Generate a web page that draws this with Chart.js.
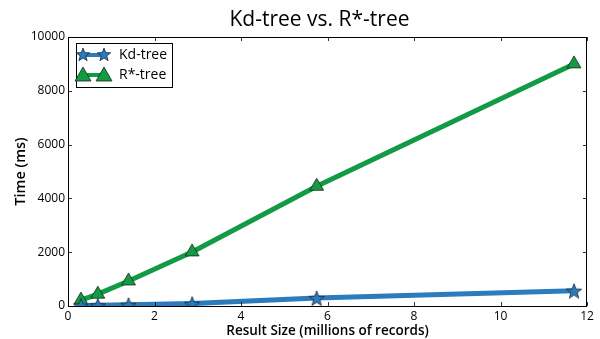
<!DOCTYPE html>
<html><head><meta charset="utf-8">
<script src="https://cdn.jsdelivr.net/npm/chart.js@4"></script>
<style>html,body{margin:0;padding:0;background:#fff}#wrap{width:600px;height:339px}</style>
</head><body><div id="wrap"><canvas id="c" width="600" height="339"></canvas></div>
<script>
const resultSize = [0.3, 0.69, 1.4, 2.87, 5.75, 11.7];
const kdTree = [20, 30, 50, 90, 300, 570];
const rStarTree = [220, 440, 930, 2010, 4450, 9000];
const xTicks = [0, 2, 4, 6, 8, 10, 12];
const yTicks = [0, 2000, 4000, 6000, 8000, 10000];
const seriesNames = ['Kd-tree', 'R*-tree'];
const chartTitle = 'Kd-tree vs. R*-tree';

const FONT = 'Open Sans';
const BLUE = '#2b7bbd';
const GREEN = '#129a45';

function makeStar(r, fill) {
  const s = Math.ceil(r * 2 + 4);
  const c = document.createElement('canvas');
  c.width = s; c.height = s;
  const g = c.getContext('2d');
  g.translate(s / 2, s / 2 + 1);
  g.beginPath();
  for (let i = 0; i < 10; i++) {
    const rad = i % 2 === 0 ? r : r * 0.42;
    const a = -Math.PI / 2 + i * Math.PI / 5;
    const px = Math.cos(a) * rad, py = Math.sin(a) * rad;
    if (i === 0) g.moveTo(px, py); else g.lineTo(px, py);
  }
  g.closePath();
  g.fillStyle = fill; g.fill();
  g.lineWidth = 0.8; g.strokeStyle = '#1a2a3a'; g.stroke();
  return c;
}
const starImg = makeStar(8, BLUE);
const starLeg = makeStar(7, BLUE);

const frame = {
  id: 'frame',
  afterDatasetsDraw(chart) {
    const { ctx, chartArea: a, scales } = chart;
    ctx.save();
    // title
    ctx.fillStyle = '#000';
    ctx.font = '21px "' + FONT + '"';
    ctx.textAlign = 'center'; ctx.textBaseline = 'alphabetic';
    ctx.fillText(chartTitle, (a.left + a.right) / 2 - 8, 26);

    ctx.strokeStyle = '#000'; ctx.lineWidth = 1;
    ctx.strokeRect(a.left + 0.5, a.top + 0.5, a.right - a.left - 1, a.bottom - a.top);
    ctx.lineWidth = 0.8;
    xTicks.forEach(v => {
      const x = Math.round(scales.x.getPixelForValue(v)) + 0.5;
      ctx.beginPath(); ctx.moveTo(x, a.bottom); ctx.lineTo(x, a.bottom - 4);
      ctx.moveTo(x, a.top); ctx.lineTo(x, a.top + 4); ctx.stroke();
    });
    yTicks.forEach(v => {
      const y = Math.round(scales.y.getPixelForValue(v)) + 0.5;
      ctx.beginPath(); ctx.moveTo(a.left, y); ctx.lineTo(a.left + 4, y);
      ctx.moveTo(a.right, y); ctx.lineTo(a.right - 4, y); ctx.stroke();
    });
    // legend
    const lx = a.left + 8, ly = a.top + 6, lw = 96, lh = 44;
    ctx.fillStyle = '#fff';
    ctx.fillRect(lx, ly, lw, lh);
    ctx.strokeStyle = '#000'; ctx.lineWidth = 1;
    ctx.strokeRect(lx + 0.5, ly + 0.5, lw, lh);
    const rows = [ly + 12, ly + 32];
    ctx.font = '14px "' + FONT + '"';
    ctx.textBaseline = 'middle'; ctx.textAlign = 'left';
    ctx.strokeStyle = BLUE; ctx.lineWidth = 4;
    ctx.beginPath(); ctx.moveTo(lx + 7, rows[0]); ctx.lineTo(lx + 28, rows[0]); ctx.stroke();
    [lx + 7, lx + 28].forEach(px => ctx.drawImage(starLeg, px - starLeg.width / 2, rows[0] - starLeg.height / 2 - 1));
    ctx.fillStyle = '#000'; ctx.fillText(seriesNames[0], lx + 43, rows[0]);
    ctx.strokeStyle = GREEN; ctx.lineWidth = 4;
    ctx.beginPath(); ctx.moveTo(lx + 7, rows[1]); ctx.lineTo(lx + 28, rows[1]); ctx.stroke();
    [lx + 7, lx + 28].forEach(px => {
      ctx.beginPath();
      ctx.moveTo(px, rows[1] - 8); ctx.lineTo(px + 8, rows[1] + 6); ctx.lineTo(px - 8, rows[1] + 6); ctx.closePath();
      ctx.fillStyle = GREEN; ctx.fill(); ctx.strokeStyle = '#1a2a1a'; ctx.lineWidth = 0.8; ctx.stroke();
    });
    ctx.fillStyle = '#000'; ctx.fillText(seriesNames[1], lx + 43, rows[1]);
    ctx.restore();
  }
};

new Chart(document.getElementById('c'), {
  type: 'scatter',
  data: {
    datasets: [
      {
        label: seriesNames[1],
        data: resultSize.map((x, i) => ({ x, y: rStarTree[i] })),
        showLine: true, borderColor: GREEN, borderWidth: 5,
        pointStyle: 'triangle', pointRadius: 8, pointBackgroundColor: GREEN,
        pointBorderColor: '#1a2a1a', pointBorderWidth: 0.8, order: 2
      },
      {
        label: seriesNames[0],
        data: resultSize.map((x, i) => ({ x, y: kdTree[i] })),
        showLine: true, borderColor: BLUE, borderWidth: 5,
        pointStyle: starImg, pointRadius: 8, order: 1
      }
    ]
  },
  options: {
    responsive: false, animation: false, devicePixelRatio: 1,
    layout: { padding: { top: 37, right: 4, bottom: 0, left: 0 } },
    plugins: {
      legend: { display: false },
      tooltip: { enabled: false },
      title: { display: false }
    },
    scales: {
      x: {
        type: 'linear', min: 0, max: 12,
        afterBuildTicks: s => { s.ticks = xTicks.map(v => ({ value: v })); },
        grid: { display: false, drawTicks: false },
        border: { display: false },
        ticks: { color: '#000', font: { family: FONT, size: 12 }, padding: 3, maxRotation: 0,
          callback: v => String(v) },
        title: { display: true, text: 'Result Size (millions of records)', color: '#000',
          font: { family: FONT, size: 13.5, weight: '600' }, padding: { top: 0, bottom: 0 } },
        afterFit: s => { s.height = 33; }
      },
      y: {
        type: 'linear', min: 0, max: 10000,
        afterBuildTicks: s => { s.ticks = yTicks.map(v => ({ value: v })); },
        grid: { display: false, drawTicks: false },
        border: { display: false },
        ticks: { color: '#000', font: { family: FONT, size: 12 }, padding: 3,
          callback: v => String(v) },
        title: { display: true, text: 'Time (ms)', color: '#000',
          font: { family: FONT, size: 14.5, weight: '600' }, padding: { top: 12, bottom: 0 } },
        afterFit: s => { s.width = 68; }
      }
    }
  },
  plugins: [frame]
});
</script>
</body></html>
